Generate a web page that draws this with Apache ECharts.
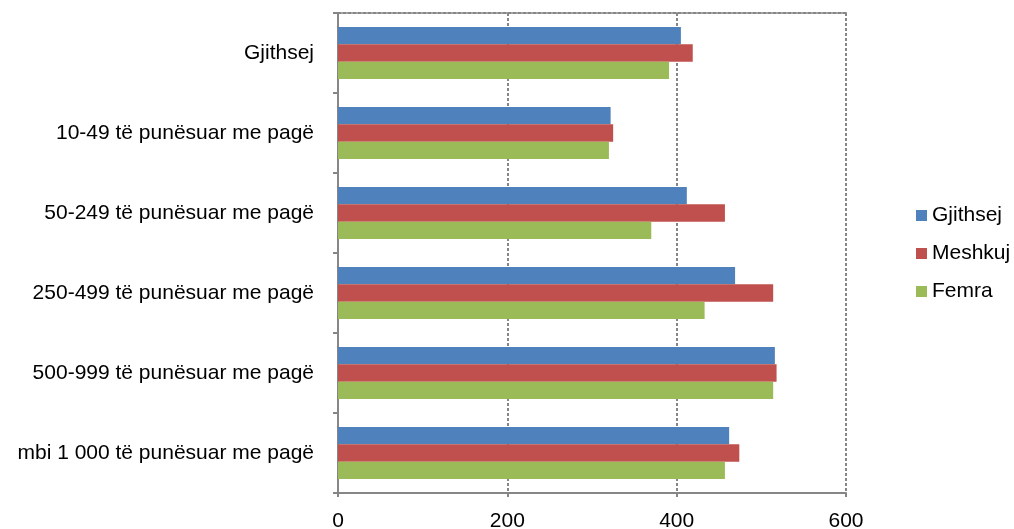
<!DOCTYPE html>
<html><head><meta charset="utf-8">
<script src="https://cdn.jsdelivr.net/npm/echarts@6/dist/echarts.min.js"></script>
<style>html,body{margin:0;padding:0;background:#fff}#c{width:1014px;height:529px}</style>
</head><body><div id="c"></div>
<script>
const categories = ["Gjithsej","10-49 të punësuar me pagë","50-249 të punësuar me pagë","250-499 të punësuar me pagë","500-999 të punësuar me pagë","mbi 1 000 të punësuar me pagë"];
const seriesNames = ["Gjithsej","Meshkuj","Femra"];
const gjithsej = [405, 322, 412, 469, 516, 462];
const meshkuj = [419, 325, 457, 514, 518, 474];
const femra = [391, 320, 370, 433, 514, 457];
const xTicks = [0, 200, 400, 600];
const colors = ["#4F81BD","#C0504D","#9BBB59"];
const font = "Liberation Sans, Arial, sans-serif";
const chart = echarts.init(document.getElementById('c'));
const values = [gjithsej, meshkuj, femra];
chart.setOption({
  animation:false,
  color: colors,
  grid:{left:338,right:168,top:13,bottom:36,containLabel:false,outerBoundsMode:'none'},
  legend:{
    orient:'vertical', left:911, top:200, itemWidth:11, itemHeight:11, itemGap:17,
    icon:'rect', data: seriesNames,
    textStyle:{fontFamily:font,fontSize:21,color:'#000'}
  },
  xAxis:[{
    type:'value', min:xTicks[0], max:xTicks[xTicks.length-1], interval:200,
    axisLine:{show:true,lineStyle:{color:'#868686',width:2}},
    axisTick:{show:true,length:4,lineStyle:{color:'#868686',width:2}},
    axisLabel:{fontFamily:font,fontSize:21,color:'#000',margin:18},
    splitLine:{show:true,lineStyle:{color:'#868686',type:[3,2],width:2}}
  },{
    type:'value', position:'top', min:0, max:600, interval:200,
    axisLine:{show:true,lineStyle:{color:'#868686',type:[3,2],width:2}},
    axisTick:{show:false}, axisLabel:{show:false}, splitLine:{show:false}
  }],
  yAxis:{
    type:'category', data:categories, inverse:true,
    axisLine:{show:true,lineStyle:{color:'#868686',width:2}},
    axisTick:{show:true,length:5,lineStyle:{color:'#868686',width:2}},
    axisLabel:{fontFamily:font,fontSize:21,color:'#000',margin:24}
  },
  series: seriesNames.map((n,i)=>({
    name:n, type:'bar', data:values[i], barGap:'0%', barCategoryGap:'35%',
    xAxisIndex:0
  }))
});
</script></body></html>
